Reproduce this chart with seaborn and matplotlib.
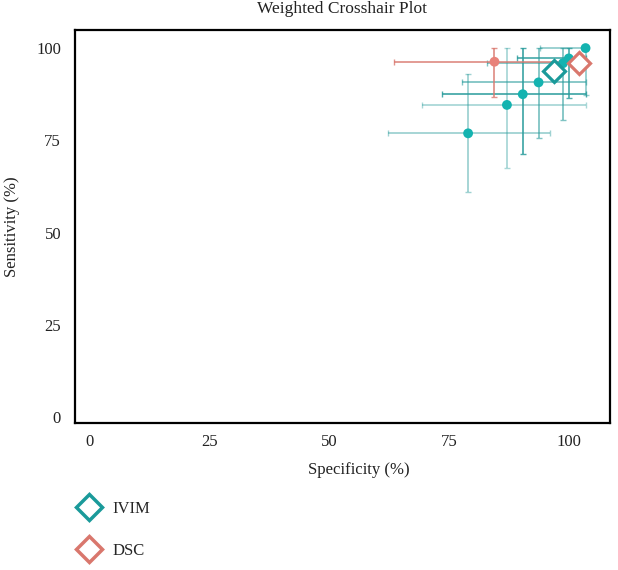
import matplotlib
matplotlib.use("Agg")
import matplotlib.pyplot as plt
from matplotlib.lines import Line2D
import seaborn as sns
import pandas as pd
import numpy as np

# ---- data ----
ivim_spec = [103.5, 100.0, 98.8, 93.7, 90.4, 87.1, 79.0]
ivim_sens = [100.0, 97.2, 95.9, 90.7, 87.5, 84.6, 76.9]
ivim_spec_lo = [94.0, 89.2, 82.9, 77.7, 73.5, 69.4, 62.2]
ivim_spec_hi = [103.5, 103.5, 103.5, 103.5, 103.5, 103.5, 96.1]
ivim_sens_lo = [87.4, 86.4, 80.4, 75.5, 71.2, 67.4, 61.0]
ivim_sens_hi = [100.0, 100.0, 100.0, 100.0, 100.0, 100.0, 93.0]
ivim_weight = [0.5, 0.8, 0.6, 0.6, 0.85, 0.4, 0.45]

dsc_spec = [84.5]
dsc_sens = [96.3]
dsc_spec_lo = [63.6]
dsc_spec_hi = [103.5]
dsc_sens_lo = [86.8]
dsc_sens_hi = [100.0]
dsc_weight = [0.8]

summary_group = ["IVIM", "DSC"]
summary_spec = [96.9, 102.1]
summary_sens = [93.8, 96.0]

x_ticks = [0, 25, 50, 75, 100]
y_ticks = [0, 25, 50, 75, 100]

# ---- styling ----
sns.set_theme(style="white")
plt.rcParams['font.family'] = ['Liberation Serif', 'DejaVu Serif']

teal_pt = "#14b3b0"
teal_bar = "#2a9c9c"
teal_dia = "#1a9a9a"
red_pt = "#e8827a"
red_bar = "#d9786f"
red_dia = "#d9776d"
txt = "#222222"

fig = plt.figure(figsize=(6.18, 5.70), dpi=100)
ax = fig.add_axes([75/618, 1-423/570, (610-75)/618, (423-30)/570])

studies = pd.DataFrame({
    "spec": ivim_spec + dsc_spec,
    "sens": ivim_sens + dsc_sens,
    "spec_lo": ivim_spec_lo + dsc_spec_lo,
    "spec_hi": ivim_spec_hi + dsc_spec_hi,
    "sens_lo": ivim_sens_lo + dsc_sens_lo,
    "sens_hi": ivim_sens_hi + dsc_sens_hi,
    "w": ivim_weight + dsc_weight,
    "group": ["IVIM"] * len(ivim_spec) + ["DSC"] * len(dsc_spec),
})

bar_col = {"IVIM": teal_bar, "DSC": red_bar}
for _, r in studies.iterrows():
    c = bar_col[r["group"]]
    ax.errorbar(r["spec"], r["sens"],
                xerr=[[r["spec"] - r["spec_lo"]], [r["spec_hi"] - r["spec"]]],
                fmt="none", ecolor=c, alpha=r["w"], elinewidth=1.3,
                capsize=2.5, capthick=1.0, zorder=2)
    ax.errorbar(r["spec"], r["sens"],
                yerr=[[r["sens"] - r["sens_lo"]], [r["sens_hi"] - r["sens"]]],
                fmt="none", ecolor=c, alpha=r["w"], elinewidth=1.3,
                capsize=2.5, capthick=1.0, zorder=2)

sns.scatterplot(data=studies, x="spec", y="sens", hue="group",
                palette={"IVIM": teal_pt, "DSC": red_pt}, s=50,
                edgecolor="none", legend=False, ax=ax, zorder=3)

summ = pd.DataFrame({"group": summary_group, "spec": summary_spec, "sens": summary_sens})
dia_col = {"IVIM": teal_dia, "DSC": red_dia}
for _, r in summ.iterrows():
    ax.plot(r["spec"], r["sens"], marker="D", ms=11.5, mfc="white",
            mec=dia_col[r["group"]], mew=2.3, ls="none", zorder=4)

ax.set_xlim(-3, 108.6)
ax.set_ylim(-1.6, 104.9)
ax.set_xticks(x_ticks)
ax.set_yticks(y_ticks)
ax.tick_params(axis="both", length=0, labelsize=12, colors=txt)
ax.tick_params(axis="x", pad=8)
ax.tick_params(axis="y", pad=10)
for s in ax.spines.values():
    s.set_visible(True)
    s.set_color("black")
    s.set_linewidth(1.6)

ax.set_xlabel("Specificity (%)", fontsize=12, color=txt)
ax.xaxis.set_label_coords(0.53, -0.098)
ax.set_ylabel("Sensitivity (%)", fontsize=12, color=txt)
ax.yaxis.set_label_coords(-0.102, 0.5)
fig.text(342/618, 1-9/570, "Weighted Crosshair Plot", ha="center", va="center",
         fontsize=12.5, color=txt)

handles = [Line2D([], [], marker="D", ms=13, mfc="white", mec=dia_col[g], mew=2.5, ls="none")
           for g in summary_group]
fig.legend(handles, summary_group, loc="upper left", bbox_to_anchor=(76/618, 1-501/570),
           frameon=False, fontsize=12, handletextpad=0.6, labelspacing=1.55,
           handlelength=1.6, borderaxespad=0, borderpad=0)

fig.savefig("out.png", dpi=100)
